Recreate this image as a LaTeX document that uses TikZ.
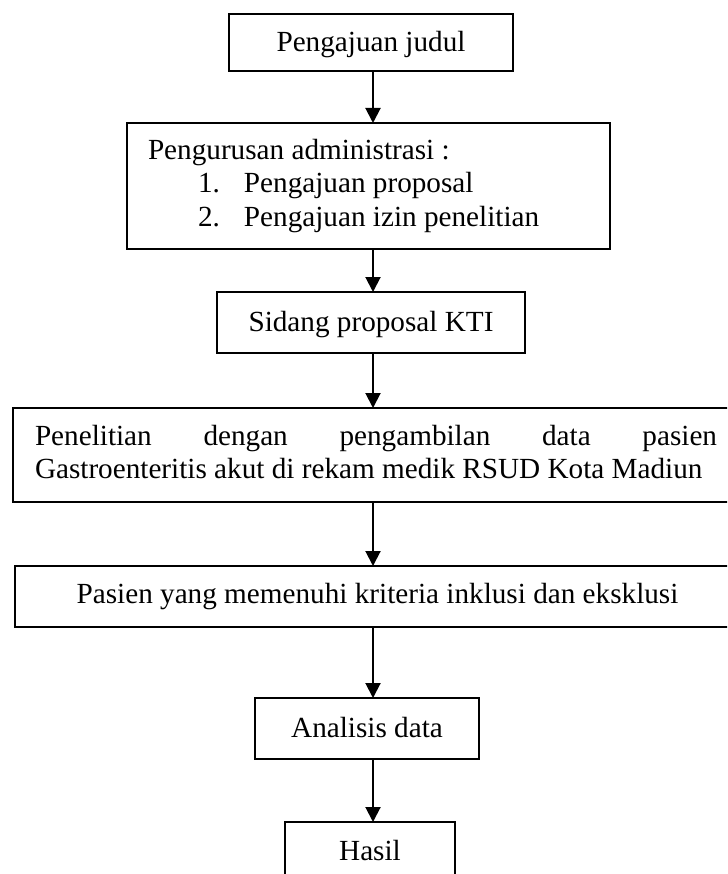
\documentclass[tikz,border=0pt]{standalone}
\usepackage{fontspec}
\setmainfont{Liberation Serif}
\usetikzlibrary{arrows.meta}
\newcommand\natsp{\spaceskip=0pt\xspaceskip=0pt\relax}
\begin{document}
\begin{tikzpicture}[x=1pt,y=-1pt,
  every node/.style={font=\fontsize{29.2}{33.6}\selectfont},
  box/.style={draw, line width=1.5pt, rectangle, inner sep=0pt, outer sep=0pt},
  sbox/.style={box, text height=19pt, text depth=1pt},
  arr/.style={line width=2pt, -{Triangle[width=15pt,length=15pt]}}]
\useasboundingbox (0,0) rectangle (727,874);
\clip (0,0) rectangle (727,874);
\coordinate (axis) at (373,0);
\node[sbox, minimum width=284pt, minimum height=57pt] (b1) at (371,42.5) {Pengajuan judul};
\node[box, minimum width=483pt, minimum height=126pt, text width=441pt, inner xsep=21pt, align=left] (b2) at (368.5,186)
  {\natsp Pengurusan administrasi :\\
   \hspace*{50pt}\makebox[46pt][l]{1.}Pengajuan proposal\\
   \hspace*{50pt}\makebox[46pt][l]{2.}Pengajuan izin penelitian};
\node[sbox, minimum width=308pt, minimum height=61pt] (b3) at (371,322.5) {Sidang proposal KTI};
\node[box, minimum width=726pt, minimum height=94pt, text width=682pt, inner xsep=22pt, align=left] (b4) at (376,455)
  {\natsp\makebox[682pt][s]{Penelitian dengan pengambilan data pasien}\\
   \mbox{Gastroenteritis akut di rekam medik RSUD Kota Madiun}\rule[-6pt]{0pt}{6pt}};
\node[sbox, minimum width=725pt, minimum height=61pt, text height=14pt] (b5) at (377.5,596.5) {Pasien yang memenuhi kriteria inklusi dan eksklusi};
\node[sbox, minimum width=224pt, minimum height=61pt, text height=18pt] (b6) at (367,728.5) {Analisis data};
\node[sbox, minimum width=170pt, minimum height=60pt, text height=17pt] (b7) at (370,852) {Hasil};
\draw[arr] (b1.south -| axis) -- (b2.north -| axis);
\draw[arr] (b2.south -| axis) -- (b3.north -| axis);
\draw[arr] (b3.south -| axis) -- (b4.north -| axis);
\draw[arr] (b4.south -| axis) -- (b5.north -| axis);
\draw[arr] (b5.south -| axis) -- (b6.north -| axis);
\draw[arr] (b6.south -| axis) -- (b7.north -| axis);
\end{tikzpicture}
\end{document}
